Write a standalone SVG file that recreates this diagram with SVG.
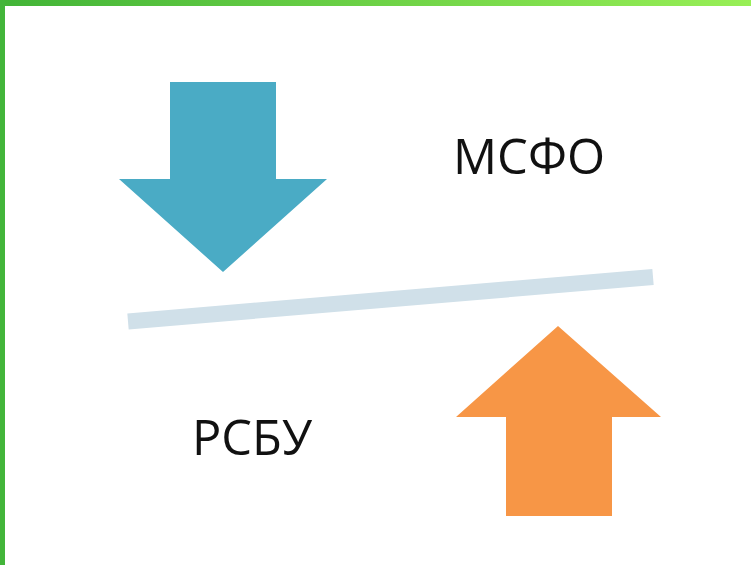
<svg xmlns="http://www.w3.org/2000/svg" width="751" height="565" viewBox="0 0 751 565">
<defs>
<linearGradient id="g" x1="0" y1="0" x2="1" y2="0">
<stop offset="0" stop-color="#42b437"/>
<stop offset="1" stop-color="#98ef56"/>
</linearGradient>
<style>
.t{font-family:"Open Sans","Liberation Sans",sans-serif;font-size:50px;fill:#111}
</style>
</defs>
<rect width="751" height="565" fill="#fff"/>
<rect x="0" y="0" width="751" height="6" fill="url(#g)"/>
<rect x="0" y="0" width="5" height="565" fill="#43b53a"/>
<g id="divider">
<line x1="128" y1="321.5" x2="653" y2="277" stroke="#d0e0e9" stroke-width="16"/>
</g>
<g id="arrow-down">
<polygon points="170,82 276,82 276,179 327,179 223,272 119,179 170,179" fill="#4aabc5"/>
</g>
<g id="arrow-up">
<polygon points="558,326 661,417 612,417 612,516 506,516 506,417 456,417" fill="#f79646"/>
</g>
<g id="label-msfo">
<text class="t" x="453" y="173.5" textLength="152" lengthAdjust="spacingAndGlyphs">МСФО</text>
</g>
<g id="label-rsbu">
<text class="t" x="192" y="454.5" textLength="120" lengthAdjust="spacingAndGlyphs">РСБУ</text>
</g>
</svg>
